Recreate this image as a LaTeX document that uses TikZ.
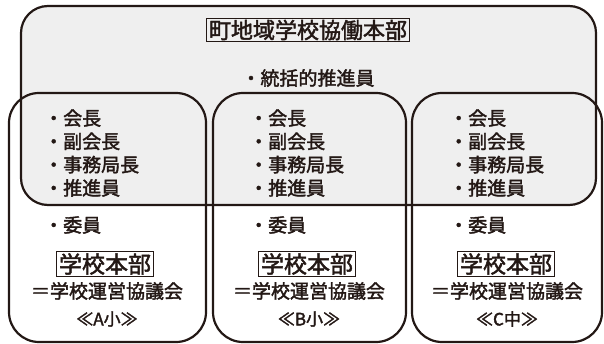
\documentclass[tikz,border=0pt]{standalone}
\usepackage{fontspec}
\setmainfont{Noto Sans CJK JP}[FakeBold=2]
\definecolor{ink}{HTML}{231815}
\definecolor{paper}{HTML}{EFEFEF}
\begin{document}
\begin{tikzpicture}[x=1pt, y=-1pt,
                    every node/.style={inner sep=0pt, text=ink},
                    hqbox/.style={draw=ink, fill=paper, line width=2.2pt, rounded corners=27pt},
                    schoolbox/.style={draw=ink, line width=2.2pt, rounded corners=30pt},
                    namebox/.style={draw=ink, line width=1pt, inner xsep=2.5pt, inner ysep=1.5pt},
                    items/.style={align=left, anchor=west, font=\fontsize{19}{23.3}\selectfont}]
        \useasboundingbox (0,0) rectangle (604,344);

        % Town headquarters (grey, behind)
        \node[hqbox, minimum width=575pt, minimum height=199pt] (hq) at (308.5,105.5) {};
        \node[namebox, font=\fontsize{22}{22}\selectfont] (hqname) at (308,30) {町地域学校協働本部};
        \node[items, anchor=center] (hqitem) at (308,78) {・統括的推進員};

        % School boxes
        \node[schoolbox, minimum width=197pt, minimum height=249pt] (boxA) at (107.5,217.5) {};
        \node[schoolbox, minimum width=193pt, minimum height=249pt] (boxB) at (309.5,217.5) {};
        \node[schoolbox, minimum width=190pt, minimum height=249pt] (boxC) at (507,217.5) {};

        % School A
        \node[items] (listA) at (44,153) {・会長\\・副会長\\・事務局長\\・推進員};
        \node[items] (memberA) at (44,225) {・委員};
        \node[namebox, font=\fontsize{23}{23}\selectfont] (hqA) at (105,264) {学校本部};
        \node[items, anchor=center] (councilA) at (107,291) {＝学校運営協議会};
        \node[font=\fontsize{17}{17}\selectfont] (nameA) at (107,319) {≪A小≫};

        % School B
        \node[items] (listB) at (249,153) {・会長\\・副会長\\・事務局長\\・推進員};
        \node[items] (memberB) at (249,225) {・委員};
        \node[namebox, font=\fontsize{23}{23}\selectfont] (hqB) at (307,264) {学校本部};
        \node[items, anchor=center] (councilB) at (309,291) {＝学校運営協議会};
        \node[font=\fontsize{17}{17}\selectfont] (nameB) at (309,319) {≪B小≫};

        % School C
        \node[items] (listC) at (449,153) {・会長\\・副会長\\・事務局長\\・推進員};
        \node[items] (memberC) at (449,225) {・委員};
        \node[namebox, font=\fontsize{23}{23}\selectfont] (hqC) at (506,264) {学校本部};
        \node[items, anchor=center] (councilC) at (507,291) {＝学校運営協議会};
        \node[font=\fontsize{17}{17}\selectfont] (nameC) at (507,319) {≪C中≫};
\end{tikzpicture}
\end{document}
